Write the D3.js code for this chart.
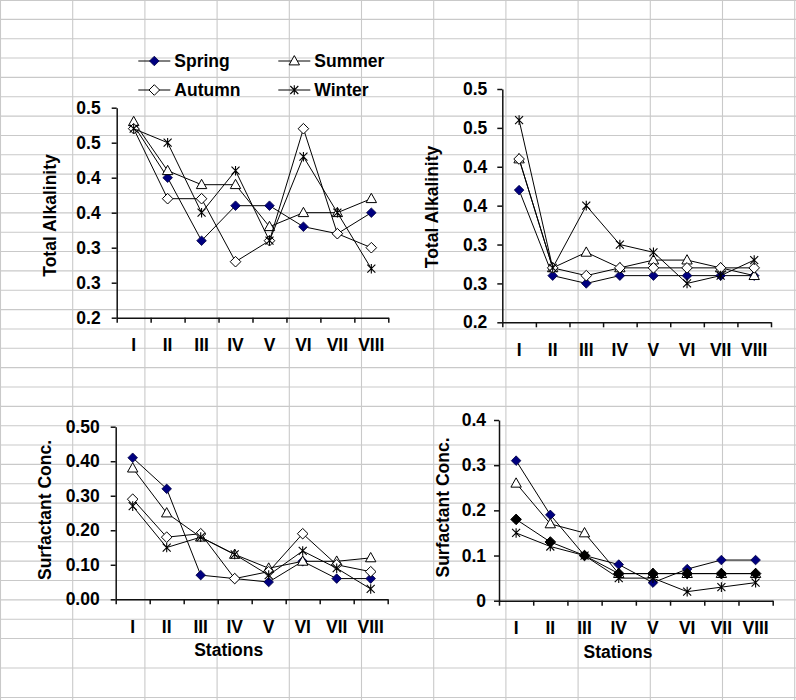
<!DOCTYPE html>
<html><head><meta charset="utf-8">
<script src="https://cdn.jsdelivr.net/npm/d3@7"></script>
<style>
body{margin:0;background:#fff}
svg{display:block}
</style>
</head><body>
<svg id="c" width="796" height="700"></svg>
<script>
// ---------- DATA ----------
const stations = ["I","II","III","IV","V","VI","VII","VIII"];
const seasons = ["Spring","Summer","Autumn","Winter"];

// Total Alkalinity (left panel)
const alkLeftSpring = [0.475, 0.40, 0.31, 0.36, 0.36, 0.33, 0.32, 0.35];
const alkLeftSummer = [0.48, 0.41, 0.39, 0.39, 0.33, 0.35, 0.35, 0.37];
const alkLeftAutumn = [0.47, 0.37, 0.37, 0.28, 0.31, 0.47, 0.32, 0.30];
const alkLeftWinter = [0.47, 0.45, 0.35, 0.41, 0.31, 0.43, 0.35, 0.27];

// Total Alkalinity (right panel)
const alkRightSpring = [0.37, 0.26, 0.25, 0.26, 0.26, 0.26, 0.26, 0.26];
const alkRightSummer = [0.41, 0.27, 0.29, 0.27, 0.28, 0.28, 0.27, 0.26];
const alkRightAutumn = [0.41, 0.27, 0.26, 0.27, 0.27, 0.27, 0.27, 0.27];
const alkRightWinter = [0.46, 0.27, 0.35, 0.30, 0.29, 0.25, 0.26, 0.28];

// Surfactant Conc. (left panel)
const surfLeftSpring = [0.41, 0.32, 0.07, 0.06, 0.05, 0.11, 0.06, 0.06];
const surfLeftSummer = [0.38, 0.25, 0.18, 0.13, 0.09, 0.11, 0.11, 0.12];
const surfLeftAutumn = [0.29, 0.18, 0.19, 0.06, 0.08, 0.19, 0.10, 0.08];
const surfLeftWinter = [0.27, 0.15, 0.18, 0.13, 0.07, 0.14, 0.09, 0.03];

// Surfactant Conc. (right panel)
const surfRightSpring = [0.31, 0.19, 0.10, 0.08, 0.04, 0.07, 0.09, 0.09];
const surfRightSummer = [0.26, 0.17, 0.15, 0.06, 0.06, 0.06, 0.06, 0.06];
const surfRightAutumn = [0.18, 0.13, 0.10, 0.06, 0.06, 0.06, 0.06, 0.06];
const surfRightWinter = [0.15, 0.12, 0.10, 0.05, 0.05, 0.02, 0.03, 0.04];

// Tick values and labels
const alkTicks = [0.2, 0.25, 0.3, 0.35, 0.4, 0.45, 0.5];
const alkTickLabels = ["0.2","0.3","0.3","0.4","0.4","0.5","0.5"];
const surfLeftTicks = [0, 0.1, 0.2, 0.3, 0.4, 0.5];
const surfLeftTickLabels = ["0.00","0.10","0.20","0.30","0.40","0.50"];
const surfRightTicks = [0, 0.1, 0.2, 0.3, 0.4];
const surfRightTickLabels = ["0","0.1","0.2","0.3","0.4"];

const alkTitle = "Total Alkalinity";
const surfTitle = "Surfactant Conc.";
const xTitle = "Stations";

// ---------- DRAWING ----------
const W = 796, H = 700;
const FONT = "'Liberation Sans', Arial, Helvetica, sans-serif";
const FS = 17.5;
const svg = d3.select("#c");
svg.append("rect").attr("width", W).attr("height", H).attr("fill", "#fff");

// spreadsheet grid background
const grid = svg.append("g").attr("stroke", "#c9c9c9").attr("stroke-width", 1.1);
const colXs = d3.range(0, 12).map(k => 0.5 + 72.2 * k);
const rowYs = d3.range(1, 34).map(k => 19.35 * k).concat([668, 697.5]);
grid.selectAll("line.v").data(colXs).join("line")
  .attr("x1", d => d).attr("x2", d => d).attr("y1", 0).attr("y2", H);
grid.selectAll("line.h").data([0.5].concat(rowYs)).join("line")
  .attr("x1", 0).attr("x2", W).attr("y1", d => d).attr("y2", d => d);

// marker shapes
const markerPath = {
  Spring: "M0,-4.8L4.8,0L0,4.8L-4.8,0Z",
  Summer: "M0,-5.4L5.2,3.9L-5.2,3.9Z",
  Autumn: "M0,-5.3L5.3,0L0,5.3L-5.3,0Z",
  Winter: "M-4,-4L4,4M-4,4L4,-4M0,-4.8L0,4.8"
};
function styleMarker(sel, season, autumnFilled) {
  if (season === "Spring") sel.attr("fill", "#000080").attr("stroke", "#000040").attr("stroke-width", 0.8);
  else if (season === "Summer") sel.attr("fill", "#fff").attr("stroke", "#000").attr("stroke-width", 1);
  else if (season === "Autumn") sel.attr("fill", autumnFilled ? "#000" : "#fff").attr("stroke", "#000").attr("stroke-width", 1);
  else sel.attr("fill", "none").attr("stroke", "#000").attr("stroke-width", 1.1);
}

const panels = [
  { x0: 116.7, x1: 388.3, yTop: 107.7, yBot: 317.7, domain: [0.2, 0.5],
    ticks: alkTicks, labels: alkTickLabels, gap: 11, title: alkTitle, tx: 49.5, ty: 215.5,
    series: [alkLeftSpring, alkLeftSummer, alkLeftAutumn, alkLeftWinter], autumnFilled: false, xTitle: null },
  { x0: 502.3, x1: 771, yTop: 89, yBot: 322.3, domain: [0.2, 0.5],
    ticks: alkTicks, labels: alkTickLabels, gap: 10, title: alkTitle, tx: 431.7, ty: 207,
    series: [alkRightSpring, alkRightSummer, alkRightAutumn, alkRightWinter], autumnFilled: false, xTitle: null },
  { x0: 115.7, x1: 387.7, yTop: 426.7, yBot: 599.3, domain: [0, 0.5],
    ticks: surfLeftTicks, labels: surfLeftTickLabels, gap: 11, title: surfTitle, tx: 45, ty: 510,
    series: [surfLeftSpring, surfLeftSummer, surfLeftAutumn, surfLeftWinter], autumnFilled: false,
    xTitle: xTitle, xtx: 228.7, xty: 649.5 },
  { x0: 499, x1: 772.7, yTop: 420, yBot: 600.7, domain: [0, 0.4],
    ticks: surfRightTicks, labels: surfRightTickLabels, gap: 8, title: surfTitle, tx: 443.3, ty: 507.5,
    series: [surfRightSpring, surfRightSummer, surfRightAutumn, surfRightWinter], autumnFilled: true,
    xTitle: xTitle, xtx: 618, xty: 651.7 }
];

function styleAxis(g) {
  g.attr("font-family", FONT).attr("font-size", FS).attr("font-weight", "bold").attr("color", "#000");
  g.selectAll("path,line").attr("stroke", "#111").attr("stroke-width", 1.5);
}

panels.forEach(p => {
  const x = d3.scaleBand().domain(stations).range([p.x0, p.x1]).padding(0);
  const xb = d3.scaleLinear().domain([0, stations.length]).range([p.x0, p.x1]);
  const y = d3.scaleLinear().domain(p.domain).range([p.yBot, p.yTop]);
  const cx = s => x(s) + x.bandwidth() / 2;
  const g = svg.append("g");

  // x axis (ticks between categories)
  g.append("g").attr("transform", `translate(0,${p.yBot})`)
    .call(d3.axisBottom(xb).tickValues(d3.range(0, stations.length + 1)).tickFormat("").tickSize(5).tickSizeOuter(0))
    .call(styleAxis);

  // y axis
  g.append("g").attr("transform", `translate(${p.x0},0)`)
    .call(d3.axisLeft(y).tickValues(p.ticks).tickFormat((d, i) => p.labels[i]).tickSize(5).tickSizeOuter(0).tickPadding(p.gap))
    .call(styleAxis);

  // category labels
  g.append("g").selectAll("text").data(stations).join("text")
    .attr("x", d => cx(d)).attr("y", p.yBot + 27.5)
    .attr("text-anchor", "middle").attr("dominant-baseline", "central")
    .attr("font-family", FONT).attr("font-size", FS).attr("font-weight", "bold").attr("fill", "#000")
    .text(d => d);

  // y title
  g.append("text")
    .attr("transform", `translate(${p.tx},${p.ty}) rotate(-90)`)
    .attr("text-anchor", "middle").attr("dominant-baseline", "central")
    .attr("font-family", FONT).attr("font-size", FS).attr("font-weight", "bold").attr("fill", "#000")
    .text(p.title);

  if (p.xTitle) {
    g.append("text").attr("x", p.xtx).attr("y", p.xty)
      .attr("text-anchor", "middle").attr("dominant-baseline", "central")
      .attr("font-family", FONT).attr("font-size", FS).attr("font-weight", "bold").attr("fill", "#000")
      .text(p.xTitle);
  }

  // series
  const line = d3.line().x((d, i) => cx(stations[i])).y(d => y(d));
  p.series.forEach((vals, si) => {
    const season = seasons[si];
    const sg = g.append("g");
    sg.append("path").attr("d", line(vals)).attr("fill", "none").attr("stroke", "#000").attr("stroke-width", 1);
    sg.selectAll("path.m").data(vals).join("path").attr("class", "m")
      .attr("d", markerPath[season])
      .attr("transform", (d, i) => `translate(${cx(stations[i])},${y(d)})`)
      .call(s => styleMarker(s, season, p.autumnFilled));
  });
});

// legend
const legendPos = [
  { x: 138.3, y: 61 }, { x: 278.3, y: 61 },
  { x: 138.3, y: 90 }, { x: 278.3, y: 90 }
];
const lg = svg.append("g");
seasons.forEach((s, i) => {
  const lp = legendPos[i];
  const e = lg.append("g").attr("transform", `translate(${lp.x},${lp.y})`);
  e.append("line").attr("x1", 0).attr("x2", 32).attr("y1", 0).attr("y2", 0).attr("stroke", "#000").attr("stroke-width", 1);
  e.append("path").attr("d", markerPath[s]).attr("transform", "translate(16,0)").call(m => styleMarker(m, s, false));
  e.append("text").attr("x", 36).attr("y", 0).attr("dominant-baseline", "central")
    .attr("font-family", FONT).attr("font-size", FS).attr("font-weight", "bold").attr("fill", "#000")
    .text(s);
});
</script>
</body></html>
